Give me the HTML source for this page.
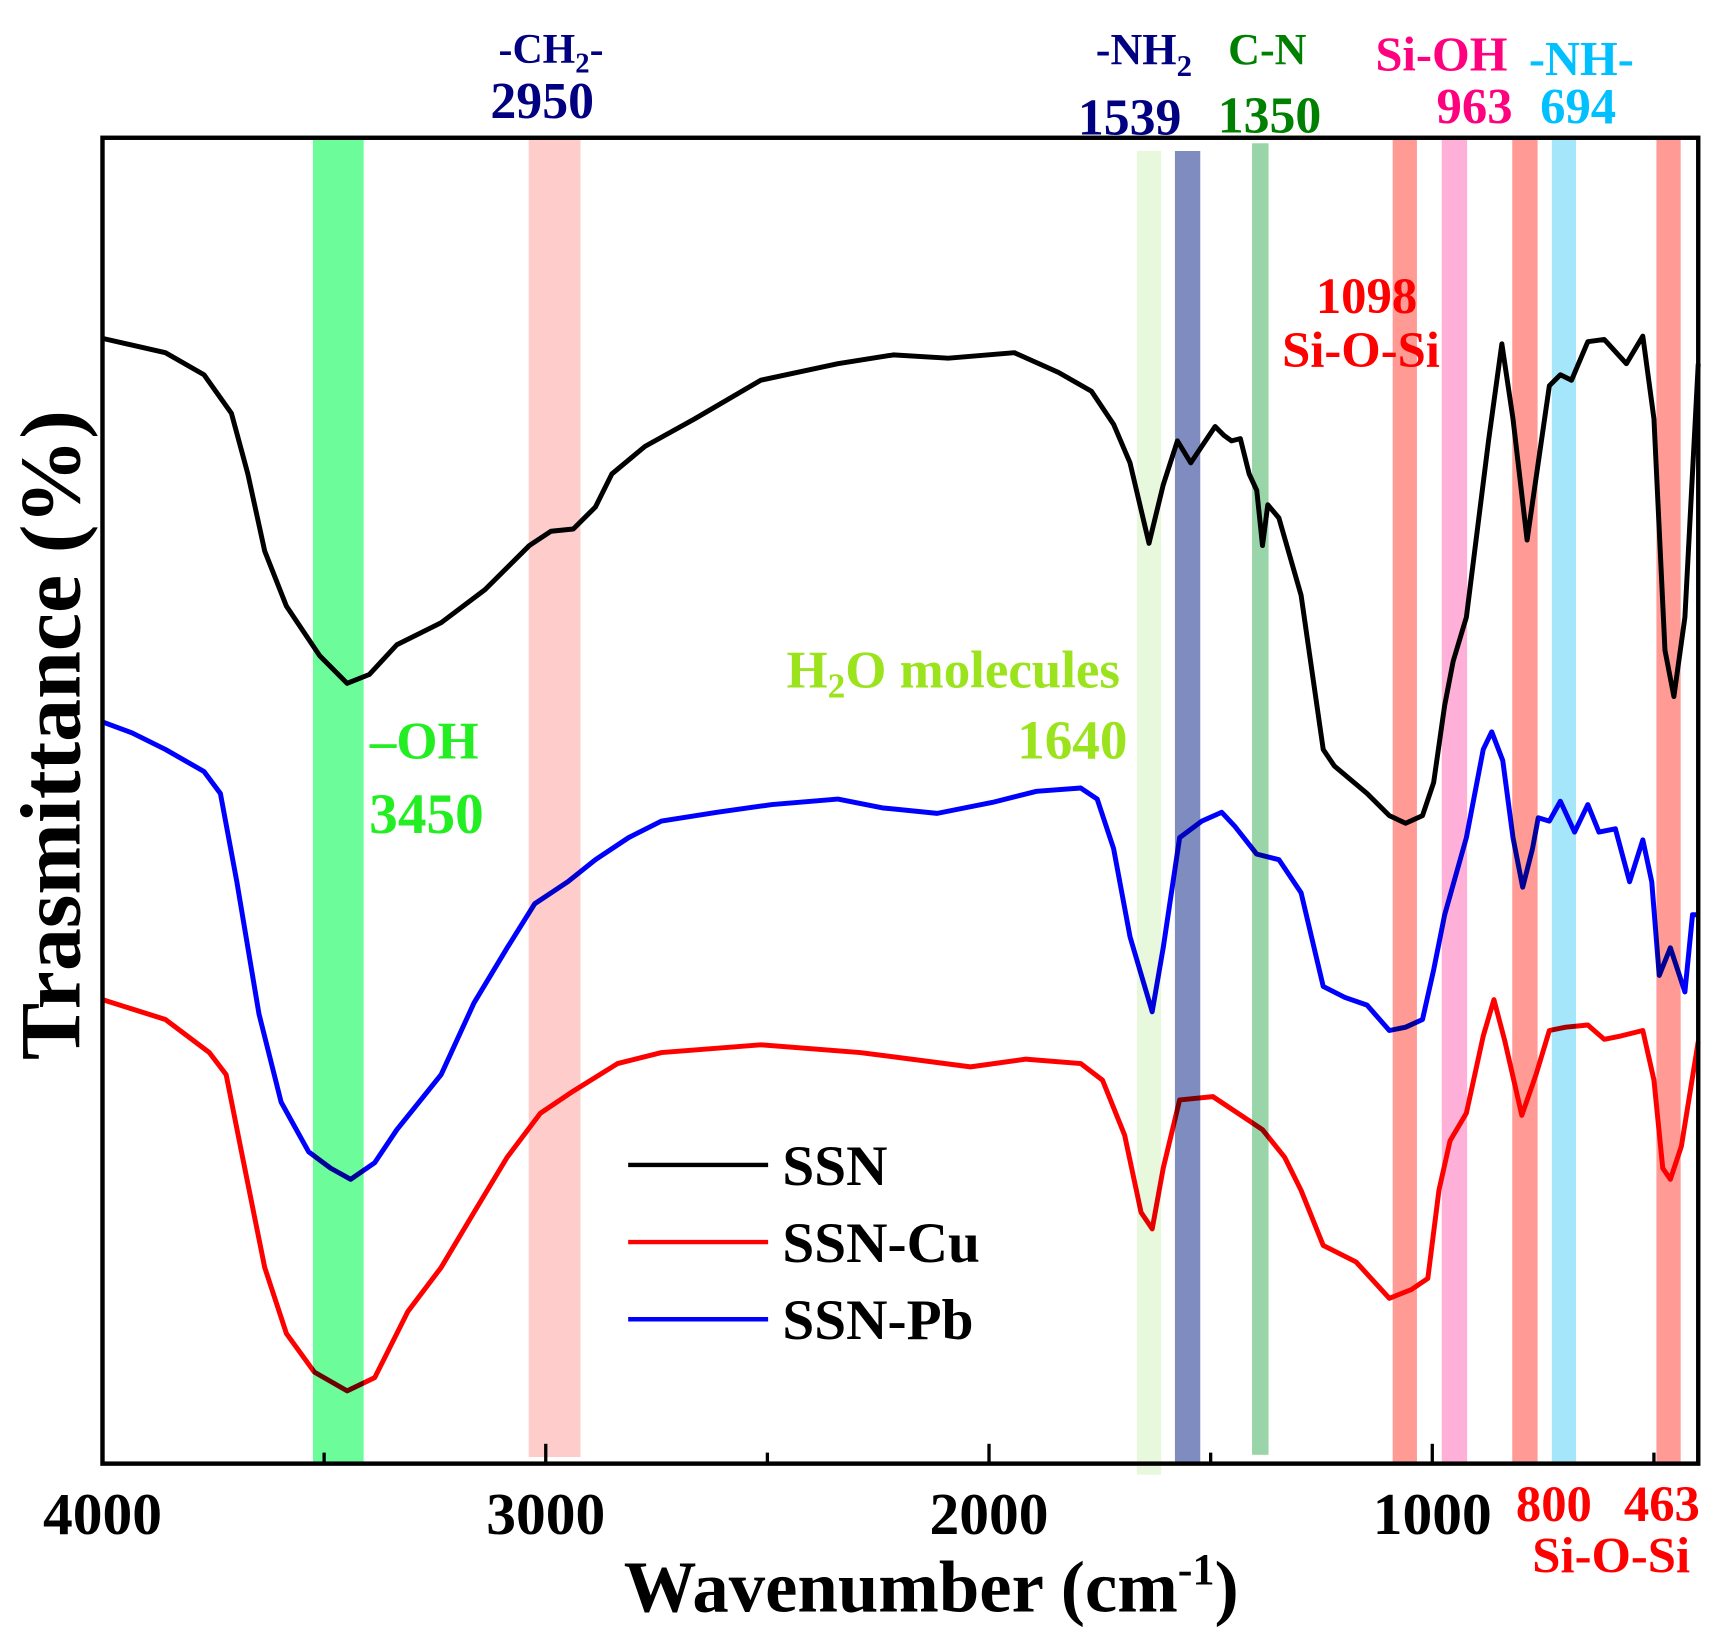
<!DOCTYPE html>
<html><head><meta charset="utf-8"><style>
html,body{margin:0;padding:0;background:#fff;}
svg{display:block;}
text{font-family:"Liberation Serif",serif;font-weight:bold;}
</style></head><body>
<svg id="chart" width="1728" height="1651" viewBox="0 0 1568 1498" preserveAspectRatio="none" xmlns="http://www.w3.org/2000/svg">
<g id="curves"></g>
<g id="bandsTop" style="mix-blend-mode:multiply"></g>
<rect x="93" y="125" width="1448" height="1203" fill="none" stroke="#000" stroke-width="4"/>
<g id="ticks"></g>
<g>
<text x="500" y="57" font-size="38" fill="#000080" text-anchor="middle">-CH<tspan font-size="26" dy="9">2</tspan><tspan dy="-9">-</tspan></text>
<text x="492" y="107" font-size="47" fill="#000080" text-anchor="middle">2950</text>
<text x="1038" y="58" font-size="40" fill="#000080" text-anchor="middle">-NH<tspan font-size="28" dy="11">2</tspan></text>
<text x="1025" y="122" font-size="47" fill="#000080" text-anchor="middle">1539</text>
<text x="1150" y="58" font-size="40" fill="#008000" text-anchor="middle">C-N</text>
<text x="1152" y="120" font-size="47" fill="#008000" text-anchor="middle">1350</text>
<text x="1308" y="64" font-size="44" fill="#ff007f" text-anchor="middle">Si-OH</text>
<text x="1338" y="112" font-size="46" fill="#ff007f" text-anchor="middle">963</text>
<text x="1435" y="68" font-size="44" fill="#00c0ff" text-anchor="middle">-NH-</text>
<text x="1432" y="112" font-size="46" fill="#00c0ff" text-anchor="middle">694</text>
<text x="1240" y="284" font-size="46" fill="#ff0000" text-anchor="middle">1098</text>
<text x="1235" y="333" font-size="46" fill="#ff0000" text-anchor="middle">Si-O-Si</text>
<text x="865" y="624" font-size="48" fill="#9be31c" text-anchor="middle">H<tspan font-size="32" dy="9">2</tspan><tspan dy="-9">O molecules</tspan></text>
<text x="973" y="688" font-size="50" fill="#9be31c" text-anchor="middle">1640</text>
<text x="385" y="688" font-size="48" fill="#22ee22" text-anchor="middle">–OH</text>
<text x="387" y="756" font-size="52" fill="#22ee22" text-anchor="middle">3450</text>
<text x="1410" y="1380" font-size="46" fill="#ff0000" text-anchor="middle">800</text>
<text x="1508" y="1380" font-size="46" fill="#ff0000" text-anchor="middle">463</text>
<text x="1462" y="1427" font-size="46" fill="#ff0000" text-anchor="middle">Si-O-Si</text>
<text x="845" y="1462" font-size="66" fill="#000" text-anchor="middle">Wavenumber (cm<tspan font-size="40" dy="-25">-1</tspan><tspan dy="25">)</tspan></text>
<text transform="translate(72,667) rotate(-90)" font-size="78" fill="#000" text-anchor="middle">Trasmittance (%)</text>
</g>
<g>
<line x1="570" y1="1057" x2="697" y2="1057" stroke="#000" stroke-width="4"/>
<text x="710" y="1075" font-size="52">SSN</text>
<line x1="570" y1="1127" x2="697" y2="1127" stroke="#ff0000" stroke-width="4"/>
<text x="710" y="1145" font-size="52">SSN-Cu</text>
<line x1="570" y1="1197" x2="697" y2="1197" stroke="#0000ff" stroke-width="4"/>
<text x="710" y="1215" font-size="52">SSN-Pb</text>
</g>
</svg>
<script>
const xTicks=[4000,3000,2000,1000];
const xMinorTicks=[3500,2500,1500,500];
const ssnWn=[4000,3858,3771,3709,3672,3634,3585,3510,3448,3398,3336,3236,3137,3037,2988,2938,2888,2851,2776,2664,2515,2341,2216,2092,1943,1843,1769,1719,1682,1639,1607,1575,1545,1520,1490,1470,1453,1433,1413,1396,1383,1371,1346,1296,1246,1221,1147,1097,1060,1022,997,972,953,923,873,843,818,786,761,736,711,686,649,612,562,525,500,475,455,430,400];
const ssnT=[1021,1008,988,953,898,828,778,733,708,716,743,763,793,833,846,848,868,898,923,948,983,998,1006,1003,1008,990,973,943,908,835,888,928,908,923,941,933,928,930,898,883,833,870,858,788,648,633,608,588,581,588,618,688,728,768,928,1016,948,838,908,978,988,983,1018,1020,998,1023,948,738,696,768,998];
const pbWn=[4000,3933,3858,3771,3734,3697,3647,3597,3535,3485,3440,3386,3336,3286,3236,3162,3087,3025,2950,2888,2813,2739,2614,2490,2341,2241,2117,1992,1893,1793,1756,1719,1682,1632,1607,1570,1520,1475,1445,1396,1346,1296,1246,1197,1147,1097,1060,1022,997,972,923,885,866,841,818,796,774,761,736,711,679,649,624,587,555,525,505,488,463,430,413,400];
const pbT=[673,663,648,628,608,528,408,328,283,268,258,273,303,328,353,418,468,508,528,548,568,583,591,598,603,595,590,600,610,613,603,558,478,410,468,568,583,591,578,553,548,518,433,423,416,393,396,403,448,498,568,648,664,638,568,523,558,586,583,601,573,598,573,576,528,566,528,443,468,428,498,498];
const cuWn=[4000,3858,3759,3721,3684,3634,3585,3522,3448,3386,3311,3236,3162,3087,3012,2938,2838,2739,2515,2291,2042,1918,1793,1744,1694,1657,1632,1607,1570,1495,1420,1383,1333,1296,1246,1172,1097,1047,1010,985,960,923,885,861,836,798,766,736,699,649,612,575,525,500,480,463,438,400];
const cuT=[421,403,373,353,278,178,118,83,66,78,138,178,228,278,318,338,363,373,380,373,360,367,363,348,298,228,213,268,330,333,313,303,278,248,198,183,150,158,168,248,293,318,388,421,383,316,353,393,396,398,385,388,393,348,268,258,288,383];
const bandWn=[3468,2980,1639,1552,1388,1062,950,791,703,467];
const bandWidth=[46,47,22,23,15,22,23,23,22,22];
const bandColor=['#6dfc9a','#ffcccc','#e8f8dd','#7f8cc0','#99d5a8','#ff9a95','#ffb0d8','#ff9a95','#a6e6fb','#ff9a95'];
const bandTop=[125,125,137,137,130,125,125,125,125,125];
const bandBottom=[1328,1322,1338,1328,1320,1328,1328,1328,1328,1328];

const PL=93,PR=1541,PT=125,PB=1328;
const WMAX=4000,WMIN=400,TMAX=1203;
function xs(w){return PL+(WMAX-w)/(WMAX-WMIN)*(PR-PL);}
function ys(t){return PB-t/TMAX*(PB-PT);}
const NS='http://www.w3.org/2000/svg';

const bandsG=document.getElementById('bandsTop');
bandWn.forEach((w,i)=>{
  const r=document.createElementNS(NS,'rect');
  r.setAttribute('x',xs(w)-bandWidth[i]/2);
  r.setAttribute('y',bandTop[i]);
  r.setAttribute('width',bandWidth[i]);
  r.setAttribute('height',bandBottom[i]-bandTop[i]);
  r.setAttribute('fill',bandColor[i]);
  
  
  bandsG.appendChild(r);
});

const curvesG=document.getElementById('curves');
function drawSeries(wn,t,color,name){
  let d='';
  wn.forEach((w,i)=>{d+=(i?'L':'M')+xs(w).toFixed(1)+','+ys(t[i]).toFixed(1);});
  const p=document.createElementNS(NS,'path');
  p.setAttribute('d',d);
  p.setAttribute('fill','none');
  p.setAttribute('stroke',color);
  p.setAttribute('stroke-width','4.5');
  p.setAttribute('stroke-linejoin','round');
  
  
  curvesG.appendChild(p);
}
drawSeries(ssnWn,ssnT,'#000','series-ssn');
drawSeries(cuWn,cuT,'#ff0000','series-ssn-cu');
drawSeries(pbWn,pbT,'#0000ff','series-ssn-pb');

const tg=document.getElementById('ticks');
xTicks.forEach(w=>{
  const l=document.createElementNS(NS,'line');
  l.setAttribute('x1',xs(w));l.setAttribute('x2',xs(w));
  l.setAttribute('y1',PB);l.setAttribute('y2',PB-18);
  l.setAttribute('stroke','#000');l.setAttribute('stroke-width','3');
  
  
  tg.appendChild(l);
  const t=document.createElementNS(NS,'text');
  t.setAttribute('x',xs(w));t.setAttribute('y',1392);
  t.setAttribute('font-size','54');t.setAttribute('text-anchor','middle');
  t.textContent=w;
  
  
  tg.appendChild(t);
});
xMinorTicks.forEach(w=>{
  const l=document.createElementNS(NS,'line');
  l.setAttribute('x1',xs(w));l.setAttribute('x2',xs(w));
  l.setAttribute('y1',PB);l.setAttribute('y2',PB-10);
  l.setAttribute('stroke','#000');l.setAttribute('stroke-width','3');
  
  
  tg.appendChild(l);
});
</script>
</body></html>
